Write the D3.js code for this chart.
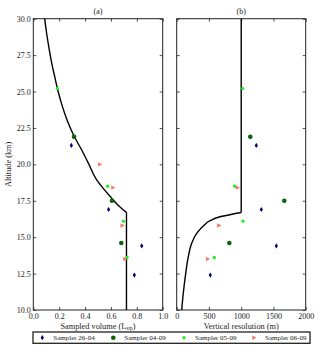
<!DOCTYPE html>
<html>
<head>
<meta charset="utf-8">
<script src="https://d3js.org/d3.v7.min.js"></script>
<style>
    body { margin: 0; background: #fff; }
    svg text { font-family: "Liberation Serif", "DejaVu Serif", serif; fill: #222; }
</style>
</head>
<body>
<div id="chart"></div>
<script>
    // tick values
    const altTicks = [10, 12.5, 15, 17.5, 20, 22.5, 25, 27.5, 30];
    const volTicks = [0, 0.2, 0.4, 0.6, 0.8, 1.0];
    const resTicks = [0, 500, 1000, 1500, 2000];

    // samplers
    const samplerNames = ['Sampler 26-04', 'Sampler 04-09', 'Sampler 05-09', 'Sampler 06-09'];
    const alt2604 = [21.3, 16.9, 14.4, 12.4];
    const vol2604 = [0.294, 0.582, 0.838, 0.781];
    const res2604 = [1234, 1312, 1545, 521];
    const alt0409 = [21.9, 17.5, 14.6];
    const vol0409 = [0.315, 0.608, 0.68];
    const res0409 = [1141, 1668, 816];
    const alt0509 = [25.2, 18.5, 16.1, 13.6];
    const vol0509 = [0.186, 0.575, 0.696, 0.724];
    const res0509 = [1023, 899, 1028, 583];
    const alt0609 = [20.0, 18.4, 15.8, 13.5];
    const vol0609 = [0.515, 0.616, 0.688, 0.709];
    const res0609 = [null, 945, 656, 480];

    // model curves
    const volCurveAlt = [30, 29, 28, 27, 26, 25, 24, 23, 22, 21, 20, 19, 18.3, 17.7, 17.2, 16.7];
    const volCurveVal = [0.088, 0.103, 0.121, 0.141, 0.166, 0.192, 0.224, 0.263, 0.312, 0.373, 0.43, 0.485, 0.545, 0.604, 0.655, 0.72];
    const volLineAlt = [16.7, 10];
    const volLineVal = [0.72, 0.72];
    const resLineAlt = [30, 16.7];
    const resLineVal = [1000, 1000];
    const resCurveAlt = [16.7, 16.64, 16.4, 16.13, 15.77, 15.26, 14.58, 13.66, 12.52, 11.15, 10];
    const resCurveVal = [1000, 930, 671, 516, 413, 310, 232, 180, 140, 102, 78];

    const width = 320, height = 351;
    const plotTop = 18.7, plotBottom = 310;
    const panelA = [33.3, 162.7];
    const panelB = [176.7, 305.7];

    const styles = [
        {color: '#00007a', shape: 'diamond'},
        {color: '#0a640a', shape: 'circle'},
        {color: '#22ee22', shape: 'small'},
        {color: '#fa7862', shape: 'triangle'}
    ];

    const svg = d3.select('#chart').append('svg')
        .attr('width', width).attr('height', height);

    const y = d3.scaleLinear().domain([10, 30]).range([plotBottom, plotTop]);
    const xa = d3.scaleLinear().domain([0, 1]).range(panelA);
    const xb = d3.scaleLinear().domain([0, 2000]).range(panelB);

    function marker(g, shape, color) {
        if (shape === 'diamond') {
            g.append('path').attr('d', 'M0,-2.6 L1.6,0 L0,2.6 L-1.6,0 Z').attr('fill', color);
        } else if (shape === 'circle') {
            g.append('circle').attr('r', 2.3).attr('fill', color);
        } else if (shape === 'small') {
            g.append('circle').attr('r', 1.7).attr('fill', color);
        } else {
            g.append('path').attr('d', 'M-1.8,-2.2 L2.4,0 L-1.8,2.2 Z').attr('fill', color);
        }
    }

    function panel(x, ticks, fmt, title, xlabel, showY) {
        const g = svg.append('g');
        const [x0, x1] = x.range();

        // bottom axis
        g.append('g').attr('transform', `translate(0,${plotBottom})`)
            .call(d3.axisBottom(x).tickValues(ticks).tickFormat(fmt).tickSize(-3).tickSizeOuter(0).tickPadding(3))
            .call(a => a.select('.domain').remove())
            .call(a => a.selectAll('text').attr('font-size', 8));
        // top axis (ticks only)
        g.append('g').attr('transform', `translate(0,${plotTop})`)
            .call(d3.axisTop(x).tickValues(ticks).tickFormat('').tickSize(-3).tickSizeOuter(0))
            .call(a => a.select('.domain').remove());
        // left axis
        g.append('g').attr('transform', `translate(${x0},0)`)
            .call(d3.axisLeft(y).tickValues(altTicks).tickFormat(showY ? d3.format('.1f') : '').tickSize(-3).tickSizeOuter(0).tickPadding(2.5))
            .call(a => a.select('.domain').remove())
            .call(a => a.selectAll('text').attr('font-size', 8));
        // right axis
        g.append('g').attr('transform', `translate(${x1},0)`)
            .call(d3.axisRight(y).tickValues(altTicks).tickFormat('').tickSize(-3).tickSizeOuter(0))
            .call(a => a.select('.domain').remove());

        g.selectAll('.tick line').attr('stroke', '#222').attr('stroke-width', 0.8);

        g.append('rect')
            .attr('x', x0).attr('y', plotTop)
            .attr('width', x1 - x0).attr('height', plotBottom - plotTop)
            .attr('fill', 'none').attr('stroke', '#222').attr('stroke-width', 1);

        g.append('text')
            .attr('x', (x0 + x1) / 2).attr('y', 14)
            .attr('text-anchor', 'middle').attr('font-size', 8)
            .text(title);

        const lab = g.append('text')
            .attr('x', (x0 + x1) / 2).attr('y', 328.5)
            .attr('text-anchor', 'middle').attr('font-size', 8.3);
        lab.append('tspan').text(xlabel[0]);
        if (xlabel[1]) {
            lab.append('tspan').attr('font-size', 5.6).attr('dy', 1.8).text(xlabel[1]);
            lab.append('tspan').attr('dy', -1.8).text(xlabel[2]);
        }
        return g;
    }

    const ga = panel(xa, volTicks, d3.format('.1f'), '(a)', ['Sampled volume (L', 'stp', ')'], true);
    const gb = panel(xb, resTicks, d3.format('d'), '(b)', ['Vertical resolution (m)'], false);

    svg.append('text')
        .attr('transform', `translate(10.5,${(plotTop + plotBottom) / 2}) rotate(-90)`)
        .attr('text-anchor', 'middle').attr('font-size', 8.3)
        .text('Altitude (km)');

    // model lines
    const lineA = d3.line().x(d => xa(d[1])).y(d => y(d[0]));
    const lineB = d3.line().x(d => xb(d[1])).y(d => y(d[0]));
    const curveA = d3.line().x(d => xa(d[1])).y(d => y(d[0])).curve(d3.curveMonotoneY);
    const curveB = d3.line().x(d => xb(d[1])).y(d => y(d[0])).curve(d3.curveMonotoneY);

    ga.append('path').attr('d', curveA(d3.zip(volCurveAlt, volCurveVal)))
        .attr('fill', 'none').attr('stroke', '#000').attr('stroke-width', 1.4);
    ga.append('path').attr('d', lineA(d3.zip(volLineAlt, volLineVal)))
        .attr('fill', 'none').attr('stroke', '#000').attr('stroke-width', 1.4);
    gb.append('path').attr('d', lineB(d3.zip(resLineAlt, resLineVal)))
        .attr('fill', 'none').attr('stroke', '#000').attr('stroke-width', 1.4);
    gb.append('path').attr('d', curveB(d3.zip(resCurveAlt, resCurveVal)))
        .attr('fill', 'none').attr('stroke', '#000').attr('stroke-width', 1.4);

    // sampler points
    const alts = [alt2604, alt0409, alt0509, alt0609];
    const vols = [vol2604, vol0409, vol0509, vol0609];
    const ress = [res2604, res0409, res0509, res0609];

    alts.forEach((al, i) => {
        al.forEach((a, j) => {
            const pa = ga.append('g').attr('transform', `translate(${xa(vols[i][j])},${y(a)})`);
            marker(pa, styles[i].shape, styles[i].color);
            if (ress[i][j] != null) {
                const pb = gb.append('g').attr('transform', `translate(${xb(ress[i][j])},${y(a)})`);
                marker(pb, styles[i].shape, styles[i].color);
            }
        });
    });

    // legend
    const legend = svg.append('g');
    legend.append('rect')
        .attr('x', 33).attr('y', 332).attr('width', 277).attr('height', 11.3)
        .attr('fill', '#fff').attr('stroke', '#222').attr('stroke-width', 1.3);
    const legX = [42.3, 113.3, 184, 254];
    samplerNames.forEach((name, i) => {
        const m = legend.append('g').attr('transform', `translate(${legX[i]},337.7)`);
        marker(m, styles[i].shape, styles[i].color);
        legend.append('text')
            .attr('x', legX[i] + 11).attr('y', 340.2)
            .attr('font-size', 7)
            .text(name);
    });
</script>
</body>
</html>
